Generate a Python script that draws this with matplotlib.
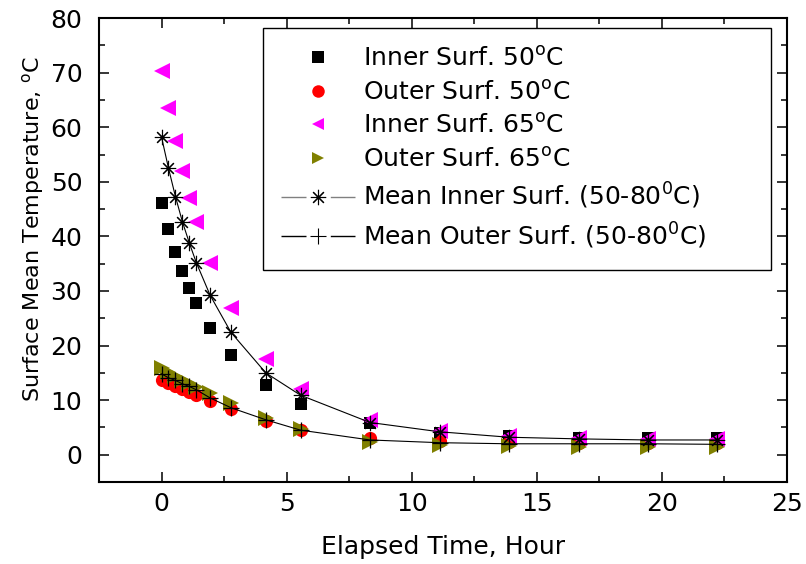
import matplotlib
matplotlib.use("Agg")
import matplotlib.pyplot as plt
from matplotlib.lines import Line2D
from matplotlib.ticker import MultipleLocator

# elapsed time in hours
t_hr = [0, 0.278, 0.556, 0.833, 1.111, 1.389, 1.944, 2.778, 4.167, 5.556,
        8.333, 11.111, 13.889, 16.667, 19.444, 22.222]

inner_50 = [46.2, 41.3, 37.2, 33.6, 30.5, 27.8, 23.2, 18.2, 12.7, 9.3,
            5.8, 4.0, 3.4, 3.1, 3.0, 3.0]
outer_50 = [13.7, 13.2, 12.6, 12.1, 11.5, 10.9, 9.8, 8.4, 6.1, 4.6,
            3.1, 2.6, 2.3, 2.2, 2.1, 2.1]
inner_65 = [70.3, 63.6, 57.4, 52.0, 47.0, 42.7, 35.2, 26.9, 17.5, 12.0,
            6.4, 4.3, 3.4, 3.1, 2.9, 2.9]
outer_65 = [15.8, 15.1, 14.4, 13.7, 13.1, 12.4, 11.3, 9.5, 6.7, 4.7,
            2.4, 1.8, 1.6, 1.5, 1.5, 1.5]
mean_inner = [58.2, 52.5, 47.3, 42.7, 38.8, 35.2, 29.2, 22.4, 15.0, 10.9,
              5.9, 4.2, 3.2, 2.9, 2.7, 2.7]
mean_outer = [14.8, 14.1, 13.6, 13.0, 12.5, 11.9, 10.4, 8.6, 6.4, 4.5,
              2.7, 2.2, 2.0, 2.0, 2.0, 1.9]

deg = r"$^{\mathregular{o}}$C"
labels = ["Inner Surf. 50" + deg, "Outer Surf. 50" + deg,
          "Inner Surf. 65" + deg, "Outer Surf. 65" + deg,
          r"Mean Inner Surf. (50-80$^{\mathregular{0}}$C)",
          r"Mean Outer Surf. (50-80$^{\mathregular{0}}$C)"]

plt.rcParams['font.family'] = ['DejaVu Sans']
plt.rcParams['lines.scale_dashes'] = False

fig = plt.figure(figsize=(8.06, 5.64), dpi=100)
ax = fig.add_axes([0.1228, 0.1454, 0.8536, 0.8226])

ax.plot(t_hr, inner_50, 's', color='black', ms=8.6, mew=0)
ax.plot(t_hr, outer_50, 'o', color='red', ms=9.5, mew=0)
ax.plot(t_hr, inner_65, '<', color='magenta', ms=11, mew=0)
ax.plot(t_hr, outer_65, '>', color='#808000', ms=11, mew=0)
ax.plot(t_hr, mean_inner, '-', color='black', lw=0.8,
        marker=(8, 2, 0), ms=11, mew=0.8, mec='black')
ax.plot(t_hr, mean_inner, 'o', color='black', ms=2.5, mew=0)
ax.plot(t_hr, mean_outer, '-', color='black', lw=0.8,
        marker='+', ms=11, mew=0.9, mec='black')

ax.set_xlim(-2.5, 25)
ax.set_ylim(-5, 80)
ax.xaxis.set_major_locator(MultipleLocator(5))
ax.xaxis.set_minor_locator(MultipleLocator(2.5))
ax.yaxis.set_major_locator(MultipleLocator(10))
ax.yaxis.set_minor_locator(MultipleLocator(5))
ax.tick_params(which='both', direction='in', top=True, right=True,
               width=1.1, labelsize=18)
ax.tick_params(which='major', length=7.5)
ax.tick_params(which='minor', length=4)
ax.tick_params(axis='x', pad=7)
ax.tick_params(axis='y', pad=12)
for s in ax.spines.values():
    s.set_linewidth(1.5)

ax.set_xlabel("Elapsed Time, Hour", fontsize=18, labelpad=14)
ax.set_ylabel(r"Surface Mean Temperature, $^{\mathregular{o}}$C",
              fontsize=16)
ax.yaxis.set_label_coords(-0.077, 0.545)

# legend handles: mean lines drawn with a gap around the marker
gap = (0, (18, 17.5))
handles = [
    Line2D([], [], ls='none', marker='s', color='black', ms=8, mew=0),
    Line2D([], [], ls='none', marker='o', color='red', ms=9, mew=0),
    Line2D([], [], ls='none', marker='<', color='magenta', ms=9, mew=0),
    Line2D([], [], ls='none', marker='>', color='#808000', ms=9, mew=0),
    (Line2D([], [], color='gray', lw=1.0, ls=gap),
     Line2D([], [], ls='none', marker=(8, 2, 0), color='black', ms=11, mew=0.8)),
    (Line2D([], [], color='black', lw=1.0, ls=gap),
     Line2D([], [], ls='none', marker='+', color='black', ms=11, mew=0.8)),
]
leg = ax.legend(handles, labels, loc='upper left',
                bbox_to_anchor=(0.238, 0.463, 0.739, 0.515), mode='expand',
                borderaxespad=0, fontsize=18, handlelength=2.96,
                handletextpad=0.32, borderpad=0.75, labelspacing=0.38,
                fancybox=False, framealpha=1, edgecolor='black')
leg.get_frame().set_linewidth(1.0)

fig.savefig("out.png", dpi=100)
